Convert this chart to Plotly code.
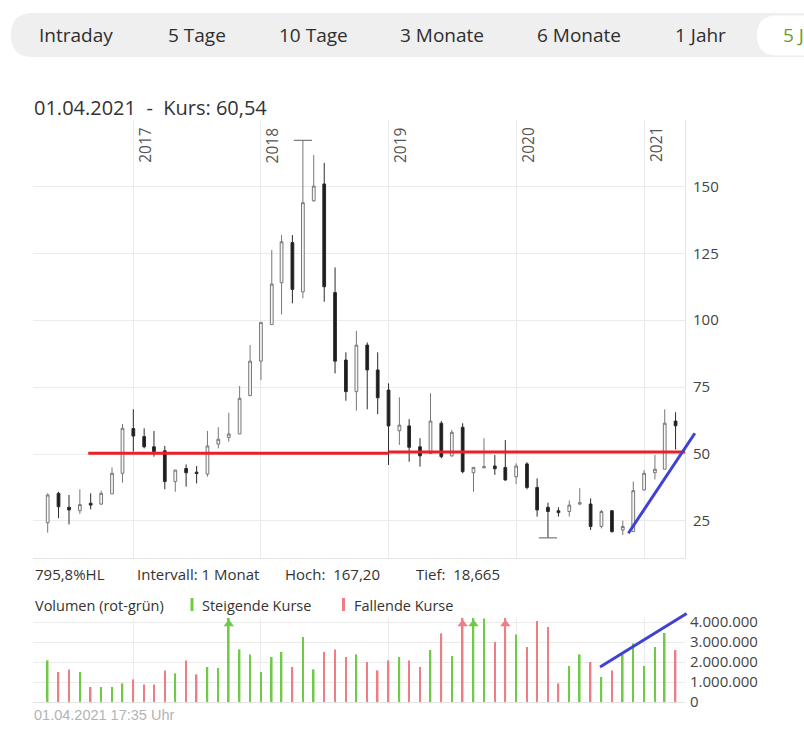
import pandas as pd
import plotly.graph_objects as go

# monthly candles, 05/2016 .. 04/2021
months = pd.date_range("2016-05-01", periods=60, freq="MS")

opens = [24.3, 35.3, 30.1, 28.8, 31.6, 31.3, 35.1, 42.8, 59.5, 56.5,
         52.7, 51.2, 39.7, 44.6, 43.2, 42.5, 53.7, 56.2, 57.5, 71.8,
         84.7, 98.4, 114.0, 129.0, 110.6, 144.6, 150.9, 110.3, 85.1, 73.3,
         90.7, 81.4, 73.9, 58.7, 60.5, 52.7, 50.2, 61.5, 49.3, 60.0,
         43.0, 44.8, 45.5, 45.0, 41.5, 46.3, 37.5, 30.1, 28.8, 28.5,
         31.3, 31.3, 22.9, 28.8, 21.6, 21.0, 36.6, 43.0, 44.3, 62.3]
highs = [35.3, 35.9, 34.7, 36.8, 35.3, 36.3, 45.0, 61.2, 66.7, 59.6,
         58.6, 53.0, 44.0, 46.1, 45.5, 58.6, 60.0, 65.4, 75.4, 90.7,
         99.2, 126.2, 131.8, 131.8, 167.2, 161.7, 158.8, 119.7, 88.0, 96.0,
         91.7, 88.0, 76.4, 71.2, 63.0, 55.9, 72.7, 62.3, 59.0, 61.5,
         45.0, 55.9, 49.6, 55.2, 46.5, 46.9, 40.9, 31.8, 30.1, 32.6,
         37.2, 33.4, 29.1, 29.1, 25.1, 39.7, 44.0, 49.6, 66.7, 65.6]
lows = [20.6, 26.0, 23.7, 27.6, 29.3, 30.9, 35.1, 39.3, 50.9, 52.1,
        49.0, 36.8, 35.9, 37.8, 39.0, 41.5, 52.1, 54.6, 57.5, 71.8,
        77.6, 98.4, 102.2, 106.3, 108.2, 144.3, 106.9, 80.1, 69.9, 66.2,
        66.7, 64.9, 45.9, 53.4, 47.1, 45.3, 50.0, 48.4, 49.0, 42.8,
        35.9, 44.8, 42.2, 40.0, 38.8, 36.8, 26.6, 18.665, 26.6, 26.6,
        30.9, 21.6, 22.2, 20.6, 19.7, 21.0, 36.3, 40.5, 44.3, 51.7]
closes = [34.7, 30.3, 29.1, 31.1, 30.9, 35.3, 42.8, 59.6, 56.7, 52.7,
          50.9, 39.7, 44.0, 43.0, 42.7, 53.0, 55.5, 57.5, 70.8, 84.7,
          99.2, 113.5, 129.3, 111.5, 143.9, 150.1, 112.5, 84.7, 73.3, 90.7,
          81.4, 71.0, 60.5, 60.8, 52.5, 49.3, 62.3, 49.0, 58.1, 43.4,
          45.0, 45.3, 44.5, 40.3, 45.5, 37.5, 29.1, 28.5, 28.1, 30.9,
          31.8, 22.9, 28.5, 21.0, 22.9, 36.3, 42.8, 44.3, 61.5, 60.54]

# volume in millions
volume_mio = [2.08, 1.5, 1.63, 1.5, 0.75, 0.75, 0.75, 0.93, 1.13, 0.88,
              0.88, 1.58, 1.43, 2.08, 1.38, 1.75, 1.7, 4.9, 2.63, 2.38,
              1.5, 2.25, 2.5, 1.75, 3.25, 1.63, 2.5, 2.63, 2.25, 2.38,
              2.0, 1.58, 2.08, 2.25, 2.08, 1.75, 2.6, 3.43, 2.3, 4.6,
              4.7, 4.18, 3.0, 4.5, 3.38, 2.75, 4.05, 3.75, 0.93, 1.8,
              2.38, 2.0, 1.25, 1.58, 2.38, 2.93, 1.8, 2.75, 3.45, 2.6]
volume = [v * 1e6 for v in volume_mio]

year_ticks = ["2017-01-01", "2018-01-01", "2019-01-01", "2020-01-01", "2021-01-01"]
year_labels = ["2017", "2018", "2019", "2020", "2021"]
price_ticks = [25, 50, 75, 100, 125, 150]
vol_ticks = [0, 1e6, 2e6, 3e6, 4e6]

# hand drawn marks on the chart
red_x0 = ["2016-08-25", "2019-01-01"]
red_x1 = ["2019-01-01", "2021-04-28"]
red_y = [50.26, 50.75]
blue_price_x = ["2020-11-17", "2021-05-29"]
blue_price_y = [20.4, 58.3]
blue_vol_x = ["2020-08-28", "2021-05-07"]
blue_vol_y = [1.75e6, 4.47e6]

tabs = ["Intraday", "5 Tage", "10 Tage", "3 Monate", "6 Monate", "1 Jahr", "5 Jahre"]

X_RANGE = ["2016-03-20", "2021-04-28"]
PRICE_RANGE = [11.14, 174.8]
VOL_TOP = 4.2e6

GREEN = "#6fca45"
RED = "#ef7d84"
GRID = "#ebebeb"

# page pixel -> paper helpers (margins l=33 r=119 t=120 b=31)
W, H = 804, 733
ML, MR, MT, MB = 33, 119, 120, 31
PW, PH = W - ML - MR, H - MT - MB


def px(x):
    return (x - ML) / PW


def py(y):
    return (H - MB - y) / PH


def rrect(x0, y0, x1, y1, r):
    return (f"M {px(x0 + r)},{py(y0)} L {px(x1 - r)},{py(y0)} "
            f"Q {px(x1)},{py(y0)} {px(x1)},{py(y0 + r)} L {px(x1)},{py(y1 - r)} "
            f"Q {px(x1)},{py(y1)} {px(x1 - r)},{py(y1)} L {px(x0 + r)},{py(y1)} "
            f"Q {px(x0)},{py(y1)} {px(x0)},{py(y1 - r)} L {px(x0)},{py(y0 + r)} "
            f"Q {px(x0)},{py(y0)} {px(x0 + r)},{py(y0)} Z")


vol_colors = [GREEN if c >= o else RED for o, c in zip(opens, closes)]
clipped = [i for i, v in enumerate(volume) if v > VOL_TOP]

fig = go.Figure()

fig.add_trace(go.Candlestick(
    x=months, open=opens, high=highs, low=lows, close=closes,
    increasing=dict(line=dict(color="#777777", width=1), fillcolor="#f7f7f7"),
    decreasing=dict(line=dict(color="#2b2b2b", width=1), fillcolor="#1c1c1c"),
    whiskerwidth=0, xaxis="x", yaxis="y", hoverinfo="skip"))

i_hi = highs.index(max(highs))
i_lo = lows.index(min(lows))
fig.add_trace(go.Scatter(
    x=[months[i_hi], months[i_lo]], y=[highs[i_hi], lows[i_lo]],
    mode="markers", marker=dict(symbol="line-ew", size=13,
                                line=dict(color="#777777", width=1.2)),
    xaxis="x", yaxis="y", hoverinfo="skip"))

fig.add_trace(go.Bar(
    x=months, y=volume, marker=dict(color=vol_colors, line=dict(width=0)),
    width=4.5 * 86400000, xaxis="x2", yaxis="y2", hoverinfo="skip"))

fig.add_trace(go.Scatter(
    x=[months[i] for i in clipped], y=[VOL_TOP - 0.3e6] * len(clipped),
    mode="markers", cliponaxis=False,
    marker=dict(symbol="triangle-up", size=9, color=[vol_colors[i] for i in clipped]),
    xaxis="x2", yaxis="y2", hoverinfo="skip"))

shapes = [
    dict(type="path", xref="paper", yref="paper", path=rrect(11, 13, 840, 57, 22),
         fillcolor="#efefef", line=dict(width=0), layer="below"),
    dict(type="path", xref="paper", yref="paper", path=rrect(757, 15.5, 850, 55.5, 20),
         fillcolor="#ffffff", line=dict(width=0), layer="below"),
    dict(type="rect", xref="paper", yref="paper", x0=px(190.5), x1=px(193.5),
         y0=py(611), y1=py(598), fillcolor=GREEN, line=dict(width=0)),
    dict(type="rect", xref="paper", yref="paper", x0=px(342), x1=px(345),
         y0=py(611), y1=py(598), fillcolor=RED, line=dict(width=0)),
]
for a, b, v in zip(red_x0, red_x1, red_y):
    shapes.append(dict(type="line", xref="x", yref="y", x0=a, x1=b, y0=v, y1=v,
                       line=dict(color="#e8202a", width=3)))

annotations = []
tab_left = [37, 166, 277, 398, 535, 673, 781]
for t, x in zip(tabs, tab_left):
    annotations.append(dict(
        text=t, x=px(x), y=py(34.5), xref="paper", yref="paper",
        xanchor="left", yanchor="middle", showarrow=False,
        font=dict(family="Open Sans", size=19,
                  color="#6a9e2f" if t == "5 Jahre" else "#2e2e2e")))

annotations.append(dict(
    text="01.04.2021\u00a0 -\u00a0 Kurs: 60,54", x=px(32), y=py(107),
    xref="paper", yref="paper", xanchor="left", yanchor="middle", showarrow=False,
    font=dict(family="Open Sans", size=20, color="#333333")))

info = [("795,8%HL", 33), ("Intervall: 1 Monat", 135),
        ("Hoch:\u00a0 167,20", 283), ("Tief:\u00a0 18,665", 414)]
for t, x in info:
    annotations.append(dict(
        text=t, x=px(x), y=py(574), xref="paper", yref="paper",
        xanchor="left", yanchor="middle", showarrow=False,
        font=dict(family="Open Sans", size=15, color="#333333")))

legend_row = [("Volumen (rot-grün)", 33), ("Steigende Kurse", 200), ("Fallende Kurse", 352)]
for t, x in legend_row:
    annotations.append(dict(
        text=t, x=px(x), y=py(605), xref="paper", yref="paper",
        xanchor="left", yanchor="middle", showarrow=False,
        font=dict(family="Open Sans", size=14.5, color="#333333")))

annotations.append(dict(
    text="01.04.2021 17:35 Uhr", x=px(32), y=py(715), xref="paper", yref="paper",
    xanchor="left", yanchor="middle", showarrow=False,
    font=dict(family="Liberation Sans", size=14.5, color="#b3b3b3")))

for d, lab in zip(year_ticks, year_labels):
    annotations.append(dict(
        text=lab, x=d, xref="x", y=1, yref="paper", xanchor="center", yanchor="top",
        xshift=11.5, yshift=-5, textangle=-90, showarrow=False,
        font=dict(family="Open Sans", size=15.5, color="#555555")))

# blue trend strokes drawn as arrowless annotations so they are not clipped
for xs, ys, xr, yr in [(blue_price_x, blue_price_y, "x", "y"),
                       (blue_vol_x, blue_vol_y, "x2", "y2")]:
    annotations.append(dict(
        x=xs[0], y=ys[0], xref=xr, yref=yr, ax=xs[1], ay=ys[1], axref=xr, ayref=yr,
        text="", showarrow=True, arrowhead=0, arrowwidth=3, arrowcolor="#4141d4",
        standoff=0, startstandoff=0))

axis_font = dict(family="Open Sans", size=15, color="#444444")

fig.update_layout(
    width=W, height=H,
    margin=dict(l=ML, r=MR, t=MT, b=MB),
    paper_bgcolor="white", plot_bgcolor="white",
    showlegend=False, hovermode=False,
    separators=",.",
    boxgap=0.6,
    shapes=shapes, annotations=annotations,
    xaxis=dict(domain=[0, 1], range=X_RANGE, type="date", anchor="y",
               tickvals=year_ticks, showticklabels=False, ticks="",
               showgrid=True, gridcolor=GRID, gridwidth=1,
               showline=True, linecolor="#e3e3e3", linewidth=1,
               rangeslider=dict(visible=False)),
    yaxis=dict(domain=[py(558), 1], range=PRICE_RANGE, side="right", anchor="x",
               tickvals=price_ticks, showgrid=True, gridcolor=GRID, zeroline=False,
               showline=True, linecolor="#e3e3e3", ticks="", ticklabelstandoff=4,
               tickfont=axis_font),
    xaxis2=dict(domain=[0, 1], range=X_RANGE, type="date", anchor="y2", matches="x",
                tickvals=year_ticks, showticklabels=False, ticks="",
                showgrid=True, gridcolor=GRID, showline=True, linecolor="#e3e3e3"),
    yaxis2=dict(domain=[0, py(618)], range=[0, VOL_TOP], side="right", anchor="x2",
                tickvals=vol_ticks, tickformat=",d", showgrid=True, gridcolor=GRID,
                zeroline=False, showline=False, ticks="", ticklabelstandoff=4,
                tickfont=axis_font),
)

# drop the browser's default 8px body margin so the figure fills the window
fig.write_html("out.html", config={"displayModeBar": False},
               post_script="document.body.style.margin='0';document.body.style.overflow='hidden';")
